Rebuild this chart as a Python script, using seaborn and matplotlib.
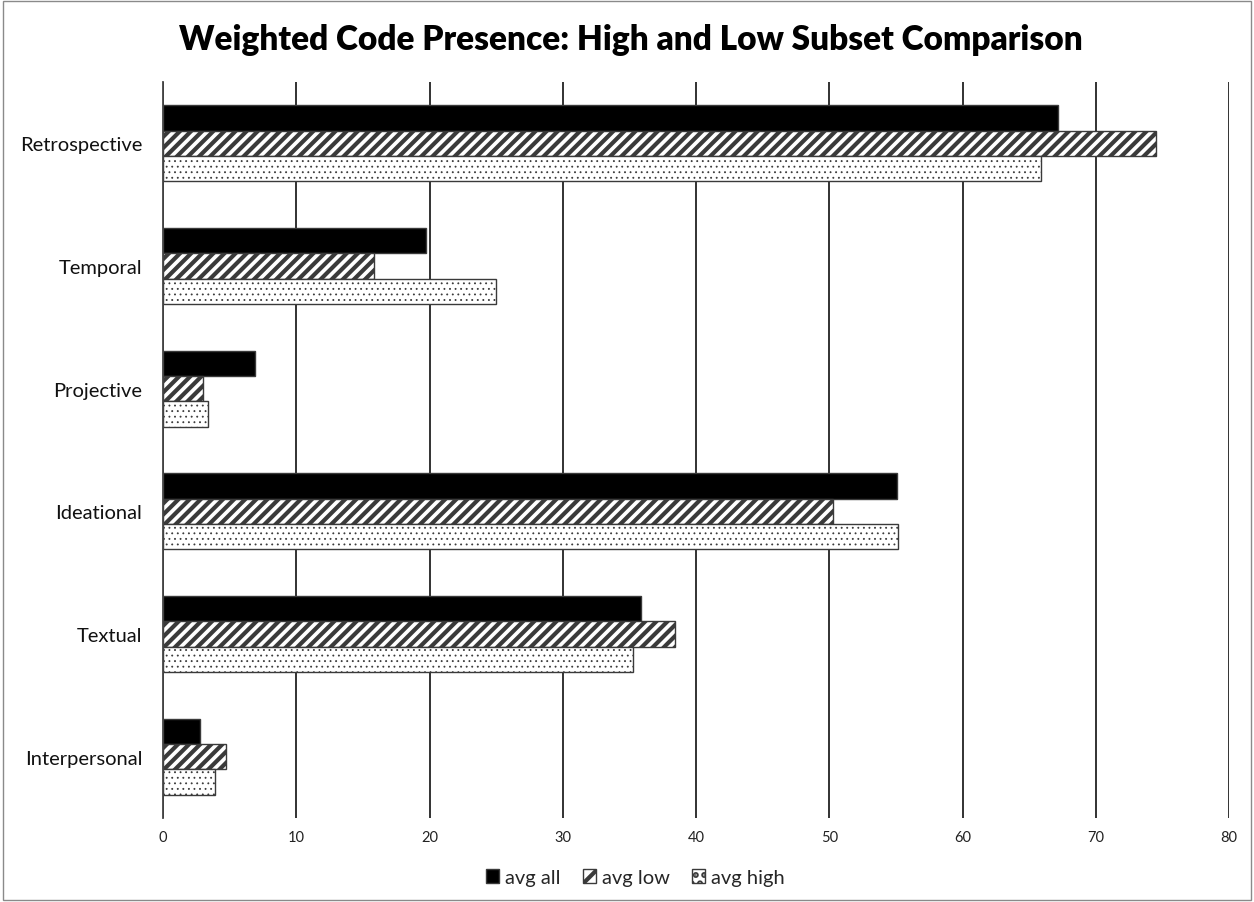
import matplotlib
matplotlib.use("Agg")
import matplotlib.pyplot as plt
import seaborn as sns
import pandas as pd
from matplotlib.patches import Rectangle

# Code categories, top to bottom
categories = ["Retrospective", "Temporal", "Projective", "Ideational", "Textual", "Interpersonal"]
series_names = ["avg all", "avg low", "avg high"]

avg_all = [67.2, 19.7, 6.9, 55.1, 35.9, 2.8]
avg_low = [74.5, 15.8, 3.0, 50.3, 38.4, 4.7]
avg_high = [65.9, 25.0, 3.4, 55.15, 35.25, 3.9]

x_ticks = [0, 10, 20, 30, 40, 50, 60, 70, 80]

sns.set_theme(style="white")
plt.rcParams["font.family"] = ["Lato", "DejaVu Sans"]
plt.rcParams["hatch.linewidth"] = 3.0
plt.rcParams["hatch.color"] = "black"

df = pd.DataFrame({
    "category": categories * 3,
    "value": avg_all + avg_low + avg_high,
    "series": [series_names[0]] * 6 + [series_names[1]] * 6 + [series_names[2]] * 6,
})

fig = plt.figure(figsize=(12.54, 9.03), dpi=100)
ax = fig.add_axes([163 / 1254, 1 - 819 / 903, (1229 - 163) / 1254, (819 - 83) / 903])

sns.barplot(
    data=df, y="category", x="value", hue="series", orient="h",
    order=categories, hue_order=series_names,
    palette=["black", "white", "white"], width=0.62,
    edgecolor="#3a3a3a", linewidth=1.0, saturation=1, legend=False, ax=ax,
)

hatches = [None, "///", "..."]
for cont, h in zip(ax.containers, hatches):
    for p in cont.patches:
        if h:
            p.set_hatch(h)
            try:
                p.set_hatchcolor("black")
            except AttributeError:
                pass
            if h.startswith("."):
                try:
                    p.set_hatch_linewidth(0.6)
                except AttributeError:
                    pass

ax.set_xlim(0, 80)
ax.set_ylim(len(categories) - 0.5, -0.5)
ax.set_xticks(x_ticks)
ax.set_xticklabels([str(t) for t in x_ticks], fontsize=10.5)
ax.tick_params(axis="x", length=0, pad=9, colors="#222222")
ax.tick_params(axis="y", length=0, pad=15, labelsize=14.5)
for lbl in ax.get_yticklabels():
    lbl.set_color("#111111")
ax.set_xlabel("")
ax.set_ylabel("")

ax.grid(axis="x", color="#222222", linewidth=1.3)
ax.grid(axis="y", visible=False)
ax.set_axisbelow(True)
for side in ["top", "right", "bottom"]:
    ax.spines[side].set_visible(False)
ax.spines["left"].set_color("#444444")
ax.spines["left"].set_linewidth(1.3)

fig.suptitle("Weighted Code Presence: High and Low Subset Comparison",
             x=0.503, y=0.956, va="center", fontsize=24, fontweight="heavy", color="black")

handles = [cont.patches[0] for cont in ax.containers]
leg = fig.legend(handles, series_names, loc="center", bbox_to_anchor=(0.507, 0.027),
                 ncol=3, frameon=False, fontsize=14.5, handlelength=0.65, handleheight=0.65,
                 handletextpad=0.3, columnspacing=1.1)
# sparser pattern inside the small legend swatches
leg.legend_handles[1].set_hatch("//")
leg.legend_handles[2].set_hatch("..")

fig.patches.append(Rectangle((0.002, 0.002), 0.996, 0.996, transform=fig.transFigure,
                             fill=False, edgecolor="#8a8a8a", linewidth=1.0))

fig.savefig("out.png", dpi=100, facecolor="white")
